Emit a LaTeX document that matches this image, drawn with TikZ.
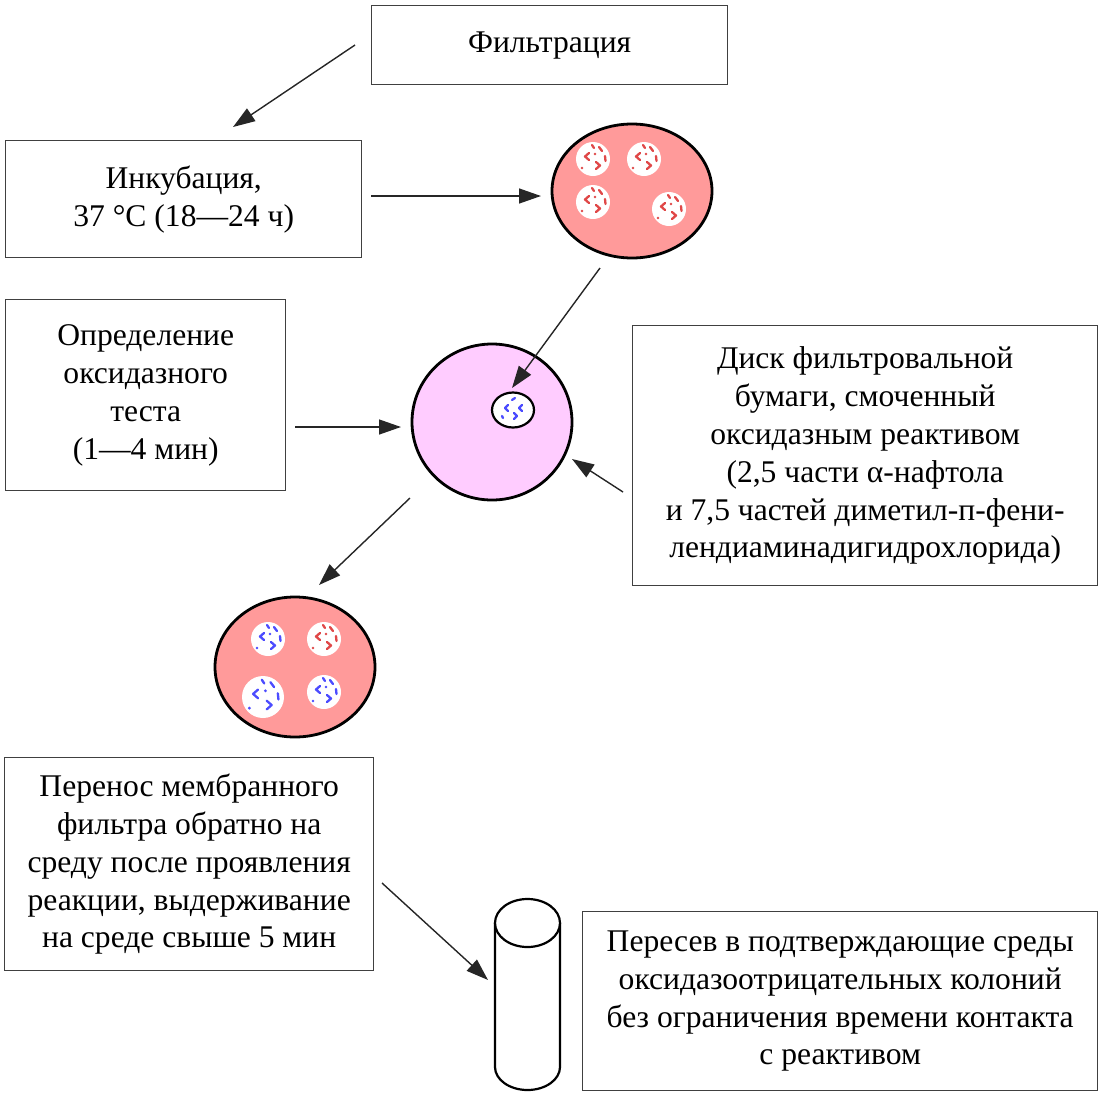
\documentclass[tikz,border=0pt]{standalone}
\usepackage{fontspec}
\setmainfont{Liberation Serif}
\usetikzlibrary{arrows.meta,shapes.geometric}
\definecolor{dishred}{HTML}{FF9A9A}
\definecolor{dishpink}{HTML}{FFCCFF}
\definecolor{colred}{HTML}{E04848}
\definecolor{colblue}{HTML}{4C4CFF}
\definecolor{boxline}{HTML}{404040}
\newcommand\mycolony[4]{%
  \fill[white] (#1,#2) circle (#3);
  \begin{scope}[shift={(#1,#2)}, scale=#3/17, draw=#4, line width=2.3bp, line cap=round, line join=round]
    \draw (-4,-6) -- (-8,-2.5) -- (-4,1);
    \draw (3,3) -- (7,6.5) -- (3,10);
    \draw (6,-12) -- (9,-8);
    \draw (12,-3) -- (12.5,2);
    \draw (-1,-14) -- (1,-11);
    \fill[#4] (-11,9) circle (1.3);
    \fill[#4] (2,-5) circle (1.3);
  \end{scope}}
\begin{document}
\begin{tikzpicture}[x=1bp,y=-1bp,
  txtbox/.style={draw=boxline, line width=1.4bp, inner sep=0pt, align=center,
    anchor=north west, font=\fontsize{31.7}{38}\selectfont},
  dish/.style={ellipse, draw=black, line width=2.8bp, inner sep=0pt},
  arr/.style={-{Triangle[length=22bp,width=15bp]}, line width=1.4bp, draw=black!85, fill=black!85}]
\useasboundingbox (0,0) rectangle (1102,1096);

% text boxes
\node[txtbox, minimum width=356bp, minimum height=79bp] (filt) at (371,5) {Фильтрация};
\node[txtbox, minimum width=356bp, minimum height=117bp] (inc) at (5,140) {Инкубация,\\37 °C (18—24 ч)};
\node[txtbox, minimum width=280bp, minimum height=191bp] (opr) at (5,299) {Определение\\оксидазного\\теста\\(1—4 мин)};
\node[txtbox, minimum width=465bp, minimum height=260bp] (disk) at (632,325) {Диск фильтровальной\\бумаги, смоченный\\оксидазным реактивом\\(2,5 части α-нафтола\\и 7,5 частей диметил-п-фени-\\лендиаминадигидрохлорида)};
\node[txtbox, minimum width=369bp, minimum height=213bp] (per) at (4,757) {Перенос мембранного\\фильтра обратно на\\среду после проявления\\реакции, выдерживание\\на среде свыше 5 мин};
\node[txtbox, minimum width=515bp, minimum height=179bp] (pers) at (582,911) {Пересев в подтверждающие среды\\оксидазоотрицательных колоний\\без ограничения времени контакта\\с реактивом};

% dish 1
\node[dish, fill=dishred, minimum width=160bp, minimum height=134bp] (d1) at (632,191) {};
\mycolony{593}{159}{17}{colred}
\mycolony{644}{159}{17}{colred}
\mycolony{593}{202}{17}{colred}
\mycolony{669}{209}{17}{colred}

% dish 2
\node[dish, fill=dishpink, minimum width=160bp, minimum height=156bp] (d2) at (492,422) {};
\node[ellipse, draw=black, fill=white, line width=2.2bp, minimum width=42bp, minimum height=35bp, inner sep=0pt] (sd) at (513,410) {};
\begin{scope}[shift={(513,410)}, draw=colblue, line width=2.3bp, line cap=round, line join=round]
  \draw (-5,-5) -- (-8,-2) -- (-5,1);
  \draw (1,3) -- (4,6) -- (1,9);
  \draw (9,-5) -- (6,-2) -- (9,1);
  \draw (-1,-10) -- (2,-12);
  \draw (-11,6) -- (-10,8);
\end{scope}

% dish 3
\node[dish, fill=dishred, minimum width=160bp, minimum height=140bp] (d3) at (295,667) {};
\mycolony{268}{639}{17}{colblue}
\mycolony{324}{639}{17}{colred}
\mycolony{263}{697}{21}{colblue}
\mycolony{324}{692}{17}{colblue}

% tube
\draw[line width=2.2bp] (495,923) -- (495,1067) arc[start angle=180, end angle=0, x radius=32.5, y radius=23] -- (560,923);
\draw[line width=2.2bp, fill=white] (527.5,923) ellipse[x radius=32.5, y radius=24];
\coordinate (tube) at (488,980);

% arrow endpoints
\coordinate (a1s) at (355,45);   \coordinate (a1e) at (233,127);
\coordinate (a2s) at (371,196);  \coordinate (a2e) at (541,196);
\coordinate (a3s) at (600,268);  \coordinate (a3e) at (512,388);
\coordinate (a4s) at (295,427);  \coordinate (a4e) at (401,427);
\coordinate (a5s) at (623,492);  \coordinate (a5e) at (572,459);
\coordinate (a6s) at (410,498);  \coordinate (a6e) at (319,585);
\coordinate (a7s) at (382,883);

\draw[arr] (a1s) -- (a1e);
\draw[arr] (a2s) -- (a2e);
\draw[arr] (a3s) -- (a3e);
\draw[arr] (a4s) -- (a4e);
\draw[arr] (a5s) -- (a5e);
\draw[arr] (a6s) -- (a6e);
\draw[arr] (a7s) -- (tube);
\end{tikzpicture}
\end{document}
